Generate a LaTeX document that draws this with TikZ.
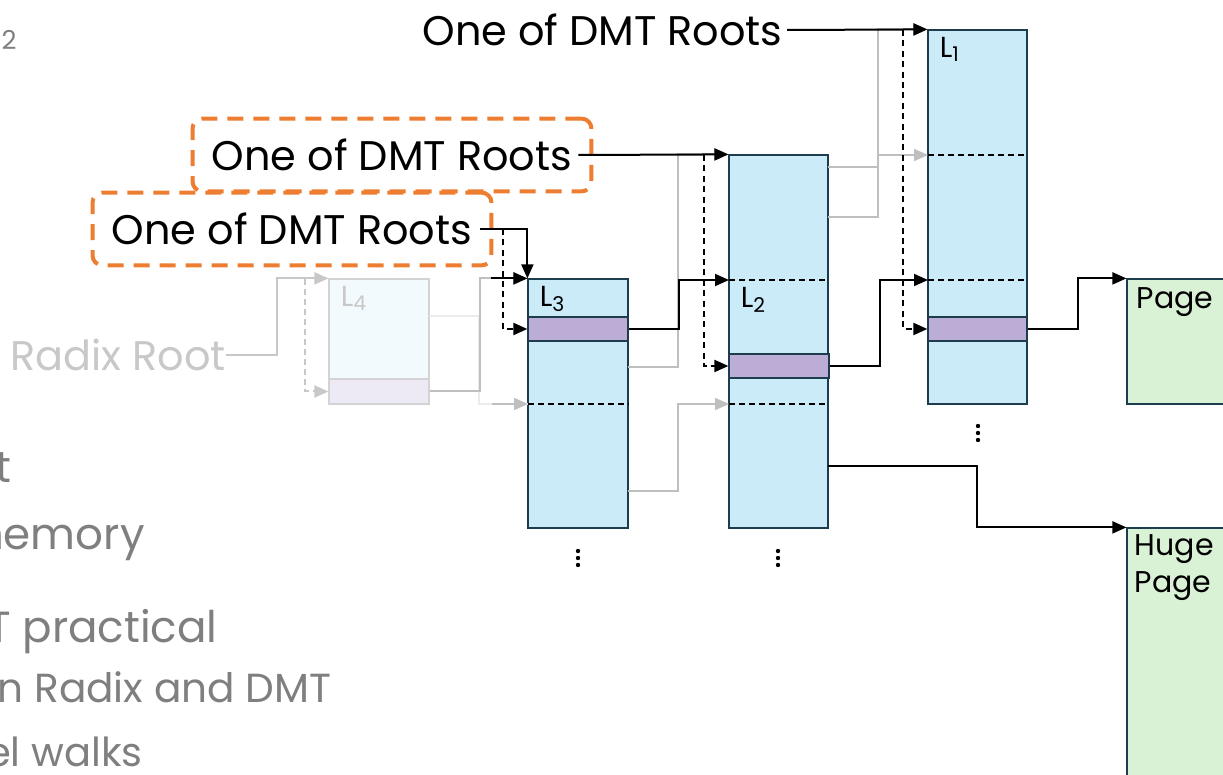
\documentclass[tikz,border=0pt]{standalone}
\usepackage{fontspec}
\setmainfont{Poppins}
\usetikzlibrary{arrows.meta,fit,calc}

\definecolor{tblblue}{HTML}{CBEBF8}
\definecolor{tbledge}{HTML}{1D3D4F}
\definecolor{slotpurple}{HTML}{BBADD6}
\definecolor{pagegreen}{HTML}{D9F1D4}
\definecolor{rootorange}{HTML}{ED7D31}
\definecolor{walkgray}{HTML}{BFBFBF}
\definecolor{fadegray}{HTML}{C8C8C8}
\definecolor{fadeline}{HTML}{EBEBEB}
\definecolor{slidegray}{HTML}{7F7F7F}

\begin{document}
\begin{tikzpicture}[x=0.5pt,y=-0.5pt,>={Triangle[length=7pt,width=6pt]},
  tbl/.style={draw=tbledge,fill=tblblue,line width=0.6pt,inner sep=0pt},
  slot/.style={draw=tbledge,fill=slotpurple,line width=0.6pt,inner sep=0pt},
  pg/.style={draw=tbledge,fill=pagegreen,line width=0.6pt,inner sep=0pt},
  oldtbl/.style={draw=fadegray!80,fill=tblblue!25,line width=0.6pt,inner sep=0pt},
  oldslot/.style={draw=fadegray!80,fill=slotpurple!25,line width=0.6pt,inner sep=0pt},
  row/.style={line width=0.9pt,dash pattern=on 3pt off 2pt},
  dmt/.style={line width=1pt},
  walk/.style={line width=1pt,dash pattern=on 3pt off 2.2pt},
  radix/.style={walkgray,line width=1pt},
  rootbox/.style={draw=rootorange,line width=2pt,dash pattern=on 8pt off 5pt,rounded corners=5pt,inner xsep=9.5pt,inner ysep=10pt},
  rootlbl/.style={font=\fontsize{20.7}{24}\selectfont,inner sep=0pt},
  lvl/.style={font=\fontsize{14.5}{17}\selectfont,inner sep=0pt,anchor=north west},
  pglbl/.style={font=\fontsize{15}{18.5}\selectfont,inner sep=0pt,anchor=north west,align=left},
  bullet/.style={slidegray,inner sep=0pt,anchor=base east}]

\clip (0,0) rectangle (1223,775);

% slide text left behind the picture
\node[bullet,font=\fontsize{13}{16}\selectfont] (pgno) at (17,50) {-2};
\node[bullet,font=\fontsize{21.8}{26}\selectfont] (b1) at (12,483) {t};
\node[bullet,font=\fontsize{21.8}{26}\selectfont] (b2) at (145,550) {nemory};
\node[bullet,font=\fontsize{21.8}{26}\selectfont] (b3) at (218,643) {T practical};
\node[bullet,font=\fontsize{20.3}{24}\selectfont] (b4) at (332,703) {n Radix and DMT};
\node[bullet,font=\fontsize{20}{24}\selectfont] (b5) at (143,767) {el walks};

% tables
\node[oldtbl,fit={(329,279) (429,404)}] (l4) {};
\node[tbl,fit={(528,279) (628,528)}] (l3) {};
\node[tbl,fit={(729,155) (828,528)}] (l2) {};
\node[tbl,fit={(928,30) (1027,404)}] (l1) {};
\node[pg,fit={(1127,279) (1260,404)}] (pg) {};
\node[pg,fit={(1127,528) (1260,800)}] (hp) {};

% entries that are hit
\node[oldslot,fit={(329,379) (429,404)}] (s4) {};
\node[slot,fit={(528,317) (628,341)}] (s3) {};
\node[slot,fit={(729,354) (829,378)}] (s2) {};
\node[slot,fit={(928,317) (1027,341)}] (s1) {};

% rows inside the tables
\coordinate (l1r1) at (928,155);
\coordinate (l1r2) at (928,280);
\coordinate (l2r1) at (729,280);
\coordinate (l2r2) at (729,404);
\coordinate (l3r1) at (528,404);
\foreach \r/\t in {l1r1/l1,l1r2/l1,l2r1/l2,l2r2/l2,l3r1/l3}
  \draw[row] (\r) -- (\r -| \t.east);

\node[lvl,fadegray] (n4) at ($(l4.north west)+(12,7)$) {L\textsubscript{4}};
\node[lvl] (n3) at ($(l3.north west)+(12,7)$) {L\textsubscript{3}};
\node[lvl] (n2) at ($(l2.north west)+(12,132)$) {L\textsubscript{2}};
\node[lvl] (n1) at ($(l1.north west)+(12,7)$) {L\textsubscript{1}};
\node[pglbl] (pgt) at ($(pg.north west)+(10,9)$) {Page};
\node[pglbl] (hpt) at ($(hp.north west)+(8,7)$) {Huge\\Page};

% more tables below
\foreach \d in {(578,558),(778,558),(978,433)}
  \foreach \k in {-7,0,7}
    \fill[shift={\d}] (0,\k) circle (1.1pt);

% roots
\node[rootlbl,anchor=east] (r1) at (783,30) {One of DMT Roots};
\node[rootlbl] (r2) at (392,155) {One of DMT Roots};
\node[rootbox,fit=(r2)] (o2) {};
\node[rootlbl] (r3) at (292,229) {One of DMT Roots};
\node[rootbox,fit=(r3)] (o3) {};
\node[rootlbl,fadegray,anchor=east] (rr) at (226,355) {Radix Root};

% radix walk, faded
\coordinate (w4) at (305,279);
\coordinate (x4a) at (429,316);
\coordinate (x3a) at (628,367);
\coordinate (x3b) at (628,491);
\coordinate (x2a) at (828,167);
\coordinate (x2b) at (828,217);
\draw[fadegray,line width=1pt,->] (rr.east) -- ++(51,0) |- (l4.north west);
\draw[fadegray,line width=1pt,dash pattern=on 3pt off 2pt,->] (w4) |- (s4.west);
\draw[fadeline,line width=1pt] (x4a) -- ++(50,0) |- (l3r1);
\draw[radix,->] ($(l3r1)+(-36,0)$) -- (l3r1);
\draw[radix,->] (s4.east) -- ++(50,0) |- (l3.north west);
\draw[radix,->] (x3a) -- ++(50,0) |- (l2.north west);
\draw[radix,->] (x3b) -- ++(50,0) |- (l2r2);
\draw[radix,->] (x2a) -- ++(50,0) |- (l1.north west);
\draw[radix,->] (x2b) -- ++(50,0) |- (l1r1);

% DMT walk
\coordinate (w3) at (503,229);
\coordinate (w2) at (704,155);
\coordinate (w1) at (903,30);
\coordinate (x2c) at (828,466);
\draw[dmt,->] ([xshift=2pt]r1.east) -- (l1.north west);
\draw[dmt,->] ([xshift=3pt]r2.east) -- (l2.north west);
\draw[dmt,->] ([xshift=4pt]r3.east) -| (l3.north west);
\draw[dmt,->] ($(l3.north west)+(-36,0)$) -- (l3.north west);
\draw[walk,->] (w3) |- (s3.west);
\draw[walk,->] (w2) |- (s2.west);
\draw[walk,->] (w1) |- (s1.west);
\draw[dmt,->] (s3.east) -- ++(50,0) |- (l2r1);
\draw[dmt,->] (s2.east) -- ++(50,0) |- (l1r2);
\draw[dmt,->] (s1.east) -- ++(50,0) |- (pg.north west);
\draw[dmt,->] (x2c) -- ++(149,0) |- (hp.north west);

\end{tikzpicture}
\end{document}
